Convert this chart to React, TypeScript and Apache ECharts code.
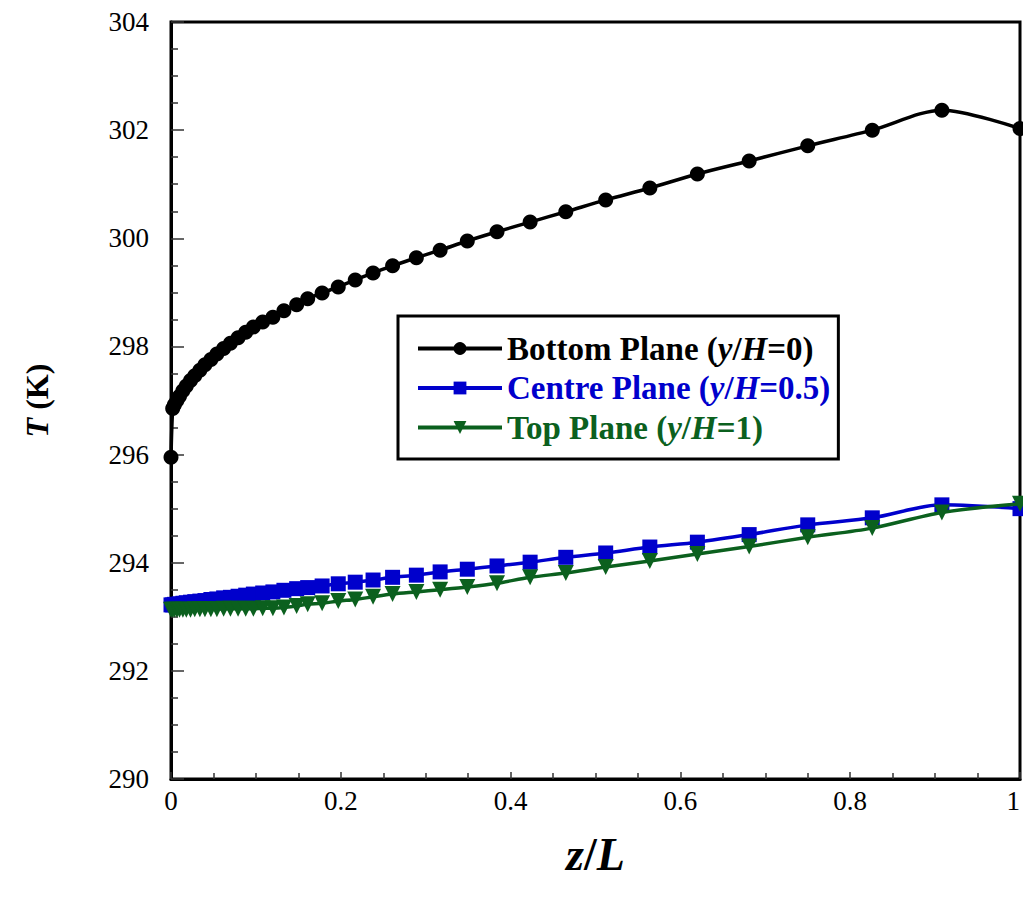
import React, { useEffect, useRef } from "react";
import * as echarts from "echarts";

const FONT = "'Liberation Serif', 'Times New Roman', Times, serif";

// z/L positions (shared by all three planes)
const zL = [
  0, 0.002, 0.004, 0.007, 0.01, 0.014, 0.018, 0.023, 0.028, 0.034, 0.04, 0.047,
  0.054, 0.062, 0.07, 0.079, 0.088, 0.097, 0.108, 0.12, 0.133, 0.148, 0.161,
  0.178, 0.197, 0.217, 0.238, 0.261, 0.289, 0.317, 0.349, 0.384, 0.423, 0.465,
  0.512, 0.564, 0.62, 0.681, 0.75, 0.826, 0.908, 1.0,
];

const bottomT = [
  295.95, 296.85, 296.92, 297.0, 297.08, 297.18, 297.27, 297.37, 297.46, 297.56,
  297.66, 297.76, 297.86, 297.96, 298.06, 298.16, 298.26, 298.36, 298.45,
  298.54, 298.66, 298.77, 298.88, 298.99, 299.1, 299.23, 299.36, 299.49,
  299.64, 299.78, 299.95, 300.12, 300.3, 300.49, 300.71, 300.93, 301.19,
  301.43, 301.71, 302.0, 302.37, 302.03,
];

const centreT = [
  293.22, 293.22, 293.23, 293.23, 293.24, 293.25, 293.26, 293.27, 293.28,
  293.29, 293.3, 293.32, 293.33, 293.35, 293.36, 293.38, 293.4, 293.42, 293.44,
  293.46, 293.49, 293.52, 293.54, 293.57, 293.61, 293.64, 293.68, 293.73,
  293.77, 293.83, 293.88, 293.94, 294.01, 294.1, 294.18, 294.29, 294.38,
  294.52, 294.7, 294.83, 295.07, 295.0,
];

const topT = [
  293.13, 293.13, 293.13, 293.13, 293.13, 293.13, 293.13, 293.13, 293.14,
  293.14, 293.14, 293.14, 293.14, 293.15, 293.15, 293.15, 293.15, 293.15,
  293.16, 293.16, 293.17, 293.2, 293.23, 293.25, 293.29, 293.32, 293.37,
  293.42, 293.46, 293.5, 293.55, 293.62, 293.73, 293.81, 293.92, 294.03,
  294.16, 294.3, 294.47, 294.64, 294.93, 295.09,
];

const seriesNames = ["Bottom Plane (y/H=0)", "Centre Plane (y/H=0.5)", "Top Plane (y/H=1)"];
const seriesLabelHead = ["Bottom Plane (", "Centre Plane (", "Top Plane ("];
const seriesLabelTail = ["=0)", "=0.5)", "=1)"];
const seriesColors = ["#000000", "#0000CC", "#0B601E"];
const seriesSymbols = ["circle", "rect", "triangle"];
const seriesRotate = [0, 0, 180];
const seriesSizes = [15, 15, 16];
const seriesValues = [bottomT, centreT, topT];

const xTicks = [0, 0.2, 0.4, 0.6, 0.8, 1];
const yTicks = [290, 292, 294, 296, 298, 300, 302, 304];

export default function App() {
  const ref = useRef<HTMLDivElement>(null);

  useEffect(() => {
    if (!ref.current) return;
    const chart = echarts.init(ref.current, undefined, { renderer: "svg" });

    const legendRich: Record<string, any> = {};
    seriesColors.forEach((c, i) => {
      legendRich["b" + i] = { color: c, fontWeight: "bold", fontSize: 33, fontFamily: FONT };
      legendRich["i" + i] = {
        color: c,
        fontWeight: "bold",
        fontStyle: "italic",
        fontSize: 33,
        fontFamily: FONT,
      };
    });

    const series = seriesNames.map((name, i) => ({
      name,
      type: "line",
      data: zL.map((z, k) => [z, seriesValues[i][k]]),
      smooth: 0.3,
      symbol: seriesSymbols[i],
      symbolSize: seriesSizes[i],
      symbolRotate: seriesRotate[i],
      showAllSymbol: true,
      lineStyle: { color: seriesColors[i], width: 3.5 },
      itemStyle: { color: seriesColors[i] },
      z: 3 + i,
    }));

    chart.setOption({
      animation: false,
      backgroundColor: "#ffffff",
      textStyle: { fontFamily: FONT },
      grid: {
        left: 171,
        right: 3,
        top: 22,
        bottom: 129,
        show: true,
        borderColor: "#000",
        borderWidth: 3,
        containLabel: false,
        outerBoundsMode: "none",
      },
      legend: {
        orient: "vertical",
        left: 398,
        top: 316,
        padding: [16, 8, 15, 18],
        itemGap: 6.5,
        itemWidth: 84,
        itemHeight: 16,
        borderColor: "#000",
        borderWidth: 3,
        backgroundColor: "#fff",
        lineStyle: { width: 4 },
        data: seriesNames,
        formatter: (name: string) => {
          const i = seriesNames.indexOf(name);
          return `{b${i}|${seriesLabelHead[i]}}{i${i}|y}{b${i}|/}{i${i}|H}{b${i}|${seriesLabelTail[i]}}`;
        },
        textStyle: { fontFamily: FONT, fontSize: 33, fontWeight: "bold", rich: legendRich },
      },
      xAxis: {
        type: "value",
        min: xTicks[0],
        max: xTicks[xTicks.length - 1],
        interval: 0.2,
        name: "{i|z}{b|/}{i|L}",
        nameLocation: "middle",
        nameGap: 52,
        nameTextStyle: {
          rich: {
            i: { fontFamily: FONT, fontSize: 46, fontWeight: "bold", fontStyle: "italic", color: "#000" },
            b: { fontFamily: FONT, fontSize: 46, fontWeight: "bold", color: "#000" },
          },
        },
        axisLine: { show: true, lineStyle: { color: "#000", width: 3 } },
        axisTick: { show: true, inside: true, length: 7, lineStyle: { color: "#333", width: 1.5 } },
        minorTick: { show: true, splitNumber: 4, length: 6, lineStyle: { color: "#333", width: 1.5 } },
        splitLine: { show: false },
        axisLabel: {
          color: "#000",
          fontFamily: FONT,
          fontSize: 27,
          margin: 8,
          alignMaxLabel: "right",
          formatter: (v: number) => (v === 0 ? "0" : v === 1 ? "1" : String(Math.round(v * 10) / 10)),
        },
      },
      yAxis: {
        type: "value",
        min: yTicks[0],
        max: yTicks[yTicks.length - 1],
        interval: 2,
        name: "{i|T}{b| (K)}",
        nameLocation: "middle",
        nameGap: 118,
        nameTextStyle: {
          rich: {
            i: { fontFamily: FONT, fontSize: 32, fontWeight: "bold", fontStyle: "italic", color: "#000" },
            b: { fontFamily: FONT, fontSize: 32, fontWeight: "bold", color: "#000" },
          },
        },
        axisLine: { show: true, lineStyle: { color: "#000", width: 3 } },
        axisTick: { show: true, inside: true, length: 13, lineStyle: { color: "#333", width: 1.5 } },
        minorTick: { show: true, splitNumber: 4, length: 7, lineStyle: { color: "#333", width: 1.5 } },
        splitLine: { show: false },
        axisLabel: { color: "#000", fontFamily: FONT, fontSize: 27, margin: 22 },
      },
      series,
    });

    return () => chart.dispose();
  }, []);

  return <div ref={ref} style={{ width: 1023, height: 908, position: "absolute", left: 0, top: 0 }} />;
}
